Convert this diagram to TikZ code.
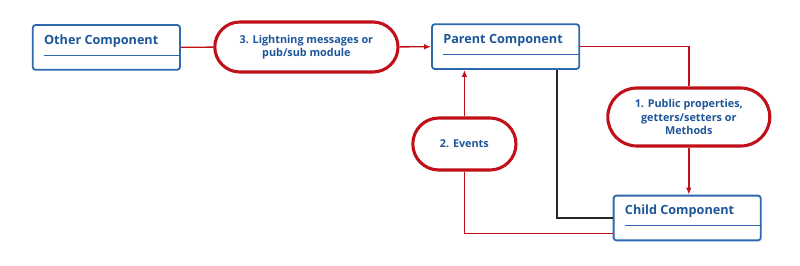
\documentclass[tikz,border=0pt]{standalone}
\usepackage{fontspec}
\setmainfont{Open Sans}
\usepackage{tikz}
\usetikzlibrary{arrows.meta, positioning, calc, shapes.misc}
\definecolor{boxc}{HTML}{2E69B0}
\definecolor{txtc}{HTML}{1D5699}
\definecolor{redc}{HTML}{C0101A}
\newcommand{\comp}[3]{%
  \node[compbox] (#1) at #2 {};
  \node[comptext, anchor=west] (#1t) at ($(#1.north west)+(0.3,-0.42)$) {#3};
  \draw[boxc, line width=0.6pt]
    ($(#1.west)+(0.3,-0.19)$) -- ($(#1.east)+(0,-0.19)$);
}
\tikzset{
  compbox/.style={rectangle, rounded corners=2pt, draw=boxc, fill=white,
        line width=1.3pt, minimum width=3.68cm, minimum height=1.12cm},
  comptext/.style={font=\fontsize{9}{11}\selectfont\bfseries, txtc,
        inner sep=0pt},
  pill/.style={rounded rectangle, draw=redc, line width=2.2pt, fill=white,
        font=\fontsize{7.7}{9.3}\selectfont\bfseries, text=txtc,
        align=center, inner sep=0pt},
  link/.style={redc, line width=1pt},
}

\begin{document}
\begin{tikzpicture}[>={Latex[length=5pt, width=4pt]}]
        \useasboundingbox (0,0) rectangle (20,6.625);
        \comp{other}{(2.66,5.44)}{Other Component}
        \comp{parent}{(12.64,5.46)}{Parent Component}
        \comp{child}{(17.18,1.175)}{Child Component}
        \node[pill, minimum width=4.58cm, minimum height=1.25cm] (msg)
          at (7.66,5.45) {3. Lightning messages or\\pub/sub module};
        \node[pill, minimum width=4.05cm, minimum height=1.45cm] (props)
          at (17.22,3.7) {1. Public properties,\\getters/setters or\\Methods};
        \node[pill, minimum width=2.58cm, minimum height=1.3cm] (events)
          at (11.61,3.025) {2. Events};
        \draw[link] (other) -- (msg);
        \draw[link, ->] (msg) -- (parent);
        \draw[link] (parent.east) -| (props.north);
        \draw[link, ->] (props.south) -- (props.south |- child.north);
        \draw[black!85, line width=1.1pt]
          ($(parent.south east)+(-0.575,0)$) |- (child.west);
        \draw[link, ->] (events.north) -- (events.north |- parent.south);
        \draw[link] ($(child.south west)+(0,0.2)$) -| (events.south);
      \end{tikzpicture}
\end{document}
